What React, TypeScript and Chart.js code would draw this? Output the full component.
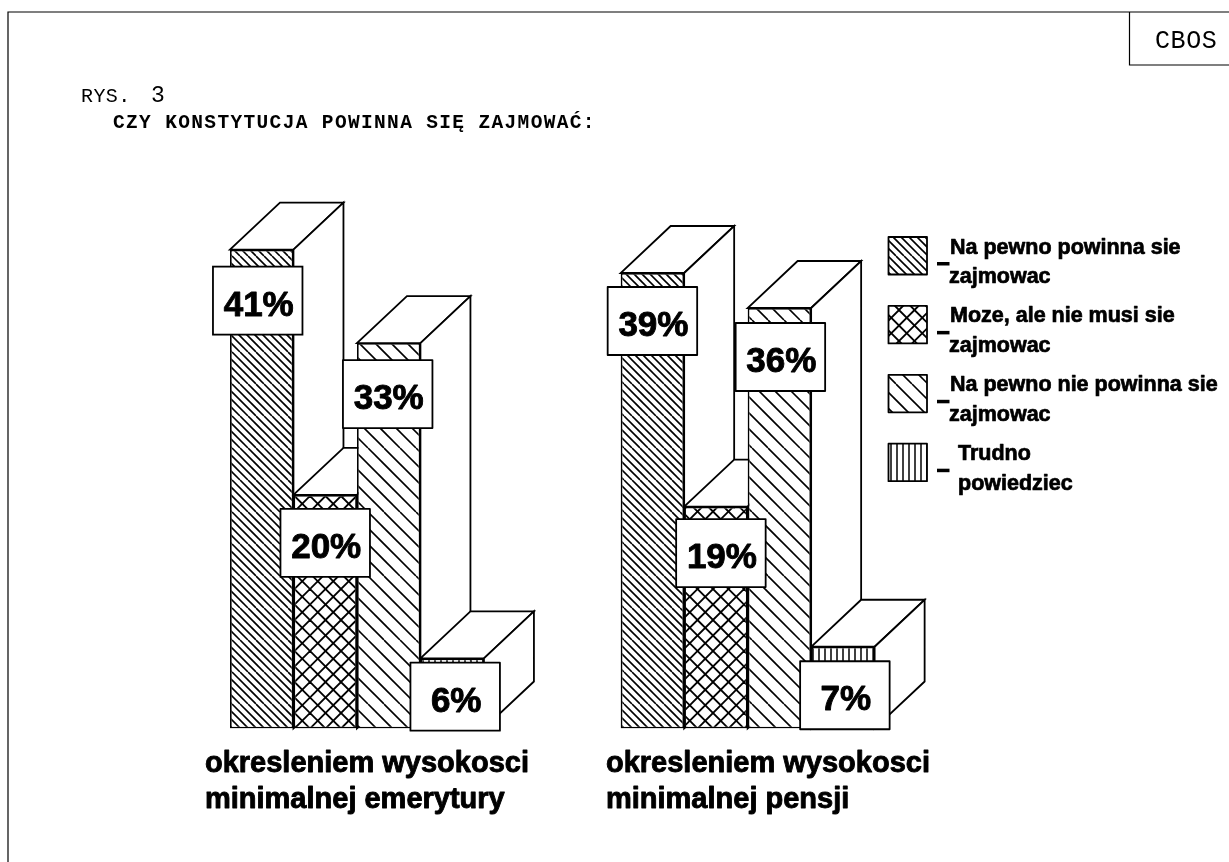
import React, { useEffect, useRef } from "react";
import { Chart, registerables } from "chart.js";

Chart.register(...registerables);

// ---- data ----
const categories = [
  ["okresleniem wysokosci", "minimalnej emerytury"],
  ["okresleniem wysokosci", "minimalnej pensji"],
];
const naPewnoPowinna = [41, 39];
const mozeNieMusi = [20, 19];
const naPewnoNie = [33, 36];
const trudno = [6, 7];
const seriesLabels = [
  ["Na pewno powinna sie", "zajmowac"],
  ["Moze, ale nie musi sie", "zajmowac"],
  ["Na pewno nie powinna sie", "zajmowac"],
  ["Trudno", "powiedziec"],
];
const figureLabel = ["RYS.", "3"];
const figureTitle = "CZY KONSTYTUCJA POWINNA SIĘ ZAJMOWAĆ:";
const sourceLabel = "CBOS";

// ---- style / layout ----
const W = 1229;
const H = 862;
const DEPTH_X = 50;
const DEPTH_Y = 47;
const LW = 1.8;
const SANS = '"Liberation Sans", Arial, sans-serif';
const MONO = '"Liberation Mono", "Courier New", monospace';
const LABEL_BOX = { w: 89.5, h: 68 };
// box centre relative to the bar: [dx, dy below top], per series, per group
const LABEL_NUDGE = [
  [[-4, 51], [0, 48]],
  [[0, 48], [5, 46.5]],
  [[-1, 51], [1, 49]],
  [[3, 38.3], [2, 48.5]],
];
const CATEGORY_LEFT_OFFSET = [-152, -141.7];

function makePattern(kind: string): CanvasPattern {
  const period = kind === "dense" ? 8 : kind === "vert" ? 6 : kind === "cross" ? 15.5 : 16;
  const size = Math.round(period * 4);
  const c = document.createElement("canvas");
  c.width = size;
  c.height = size;
  const g = c.getContext("2d")!;
  g.fillStyle = "#fff";
  g.fillRect(0, 0, size, size);
  g.strokeStyle = "#000";
  g.lineWidth = kind === "cross" ? 1.9 : kind === "vert" ? 1.5 : 1.6;
  const step = size / 4;
  if (kind === "vert") {
    for (let i = 0; i < 4; i++) {
      g.beginPath();
      g.moveTo(i * step + step / 2, 0);
      g.lineTo(i * step + step / 2, size);
      g.stroke();
    }
  } else {
    for (let i = -8; i <= 8; i++) {
      g.beginPath();
      g.moveTo(i * step, 0);
      g.lineTo(i * step + size, size);
      g.stroke();
      if (kind === "cross") {
        g.beginPath();
        g.moveTo(i * step + size, 0);
        g.lineTo(i * step, size);
        g.stroke();
      }
    }
  }
  return g.createPattern(c, "repeat")!;
}

function poly(ctx: CanvasRenderingContext2D, pts: number[][]) {
  ctx.beginPath();
  pts.forEach((p, i) => (i ? ctx.lineTo(p[0], p[1]) : ctx.moveTo(p[0], p[1])));
  ctx.closePath();
  ctx.fillStyle = "#fff";
  ctx.fill();
  ctx.stroke();
}

function boldText(ctx: CanvasRenderingContext2D, s: string, x: number, y: number, stroke: number) {
  ctx.fillStyle = "#000";
  ctx.fillText(s, x, y);
  if (stroke > 0) {
    ctx.lineWidth = stroke;
    ctx.strokeStyle = "#000";
    ctx.lineJoin = "round";
    ctx.strokeText(s, x, y);
  }
}

const facesPlugin = {
  id: "faces",
  beforeDatasetsDraw(chart: any) {
    const ctx: CanvasRenderingContext2D = chart.ctx;
    ctx.save();
    // page frame and source box
    ctx.strokeStyle = "#000";
    ctx.lineWidth = 1.2;
    ctx.beginPath();
    ctx.moveTo(8, H);
    ctx.lineTo(8, 12);
    ctx.lineTo(W, 12);
    ctx.moveTo(1129.5, 12);
    ctx.lineTo(1129.5, 65);
    ctx.lineTo(W, 65);
    ctx.stroke();
    // header text
    ctx.fillStyle = "#000";
    ctx.textAlign = "left";
    ctx.textBaseline = "alphabetic";
    ctx.font = `25px ${MONO}`;
    (ctx as any).letterSpacing = "0.6px";
    ctx.fillText(sourceLabel, 1155, 48);
    ctx.font = `20px ${MONO}`;
    (ctx as any).letterSpacing = "0.4px";
    ctx.fillText(figureLabel[0], 81, 101.5);
    ctx.font = `23px ${MONO}`;
    (ctx as any).letterSpacing = "0px";
    ctx.fillText(figureLabel[1], 151, 101.5);
    ctx.font = `bold 19.5px ${MONO}`;
    (ctx as any).letterSpacing = "1.35px";
    ctx.fillText(figureTitle, 113, 127.5);
    (ctx as any).letterSpacing = "0px";

    // depth faces, painted left to right
    ctx.strokeStyle = "#000";
    ctx.lineWidth = LW;
    ctx.lineJoin = "miter";
    const n = chart.data.datasets.length;
    for (let j = 0; j < chart.data.labels.length; j++) {
      for (let i = 0; i < n; i++) {
        const b = chart.getDatasetMeta(i).data[j];
        const l = b.x - b.width / 2;
        const r = b.x + b.width / 2;
        poly(ctx, [[l, b.y], [r, b.y], [r + DEPTH_X, b.y - DEPTH_Y], [l + DEPTH_X, b.y - DEPTH_Y]]);
        poly(ctx, [[r, b.y], [r + DEPTH_X, b.y - DEPTH_Y], [r + DEPTH_X, b.base - DEPTH_Y], [r, b.base]]);
      }
    }
    ctx.restore();
  },
  afterDatasetsDraw(chart: any) {
    const ctx: CanvasRenderingContext2D = chart.ctx;
    ctx.save();
    ctx.textBaseline = "alphabetic";
    const n = chart.data.datasets.length;
    // value boxes
    for (let j = 0; j < chart.data.labels.length; j++) {
      for (let i = 0; i < n; i++) {
        const b = chart.getDatasetMeta(i).data[j];
        const [dx, dy] = LABEL_NUDGE[i][j];
        const cx = b.x + dx;
        const cy = b.y + dy;
        ctx.fillStyle = "#fff";
        ctx.strokeStyle = "#000";
        ctx.lineWidth = LW;
        ctx.fillRect(cx - LABEL_BOX.w / 2, cy - LABEL_BOX.h / 2, LABEL_BOX.w, LABEL_BOX.h);
        ctx.strokeRect(cx - LABEL_BOX.w / 2, cy - LABEL_BOX.h / 2, LABEL_BOX.w, LABEL_BOX.h);
        ctx.font = `bold 35px ${SANS}`;
        ctx.textAlign = "center";
        boldText(ctx, `${chart.data.datasets[i].data[j]}%`, cx + 1, cy + 15, 0.9);
      }
    }
    // category captions
    ctx.textAlign = "left";
    ctx.font = `bold 29px ${SANS}`;
    const xScale = chart.scales.x;
    categories.forEach((lines, j) => {
      const x = xScale.getPixelForTick(j) + CATEGORY_LEFT_OFFSET[j];
      boldText(ctx, lines[0], x, 771.5, 0.9);
      boldText(ctx, lines[1], x, 808, 0.9);
    });
    // legend
    chart.data.datasets.forEach((ds: any, i: number) => {
      const top = 237 + i * 68.9;
      ctx.fillStyle = ds.backgroundColor;
      ctx.fillRect(888.5, top, 38.5, 37.5);
      ctx.strokeStyle = "#000";
      ctx.lineWidth = LW;
      ctx.strokeRect(888.5, top, 38.5, 37.5);
      ctx.fillStyle = "#000";
      ctx.fillRect(937, top + 25, 12.5, 3.5);
      const indent = i === 3 ? 958 : 950;
      ctx.font = `bold 21.5px ${SANS}`;
      boldText(ctx, ds.label[0], indent, top + 16.5, 0.7);
      boldText(ctx, ds.label[1], indent - (i === 3 ? 0 : 1), top + 46, 0.7);
    });
    ctx.restore();
  },
};

export default function App() {
  const ref = useRef<HTMLCanvasElement>(null);
  useEffect(() => {
    const chart = new Chart(ref.current!, {
      type: "bar",
      data: {
        labels: categories as any,
        datasets: [
          { label: seriesLabels[0] as any, data: naPewnoPowinna, backgroundColor: makePattern("dense") as any },
          { label: seriesLabels[1] as any, data: mozeNieMusi, backgroundColor: makePattern("cross") as any },
          { label: seriesLabels[2] as any, data: naPewnoNie, backgroundColor: makePattern("wide") as any },
          { label: seriesLabels[3] as any, data: trudno, backgroundColor: makePattern("vert") as any },
        ].map((d) => ({
          ...d,
          borderColor: "#000",
          borderWidth: LW,
          borderSkipped: false,
          categoryPercentage: 0.65,
          barPercentage: 1,
        })),
      },
      options: {
        responsive: false,
        animation: false,
        events: [],
        layout: { padding: { left: 161.6, right: 286, top: 144.5, bottom: 133.5 } },
        scales: {
          x: { display: false },
          y: { display: false, min: 0, max: 50 },
        },
        plugins: { legend: { display: false }, title: { display: false }, tooltip: { enabled: false } },
      },
      plugins: [facesPlugin as any],
    });
    return () => chart.destroy();
  }, []);
  return (
    <div style={{ position: "absolute", left: 0, top: 0, width: W, height: H, background: "#fff" }}>
      <canvas ref={ref} width={W} height={H} style={{ display: "block" }} />
    </div>
  );
}
